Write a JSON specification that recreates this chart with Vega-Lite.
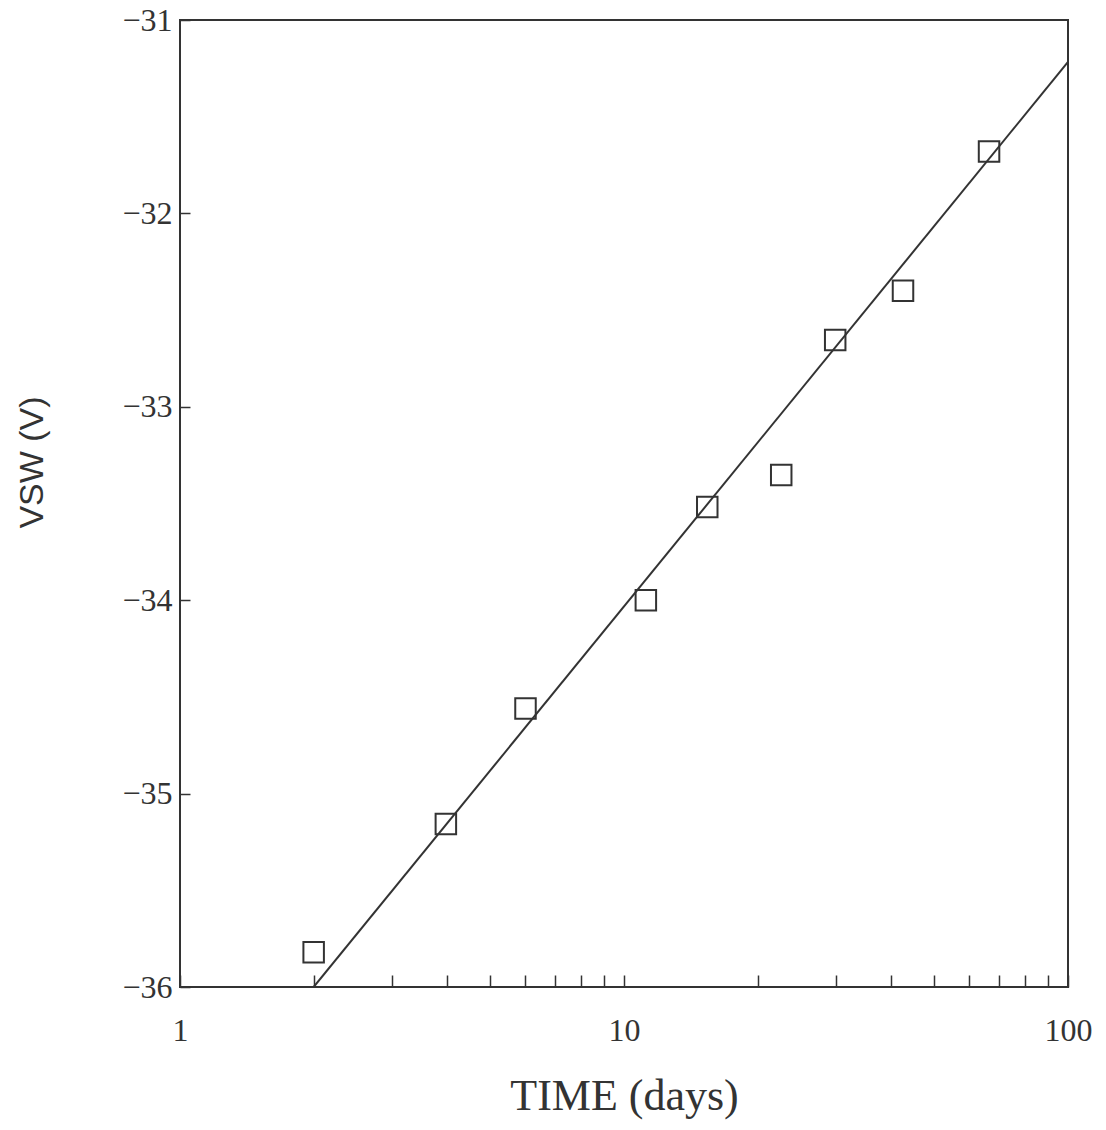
{
  "$schema": "https://vega.github.io/schema/vega-lite/v6.json",
  "autosize": "none",
  "padding": {"left": 180, "top": 20, "right": 38, "bottom": 143},
  "width": 888,
  "height": 967,
  "background": "white",
  "config": {
    "view": {"stroke": "#333", "strokeWidth": 2},
    "axis": {"grid": false, "domain": false, "tickColor": "#333", "tickWidth": 1.5, "labelColor": "#333", "titleColor": "#333"}
  },
  "datasets": {
    "pts": [
      {"t": 2.0, "v": -35.82},
      {"t": 3.97, "v": -35.157},
      {"t": 6.0, "v": -34.56},
      {"t": 11.2, "v": -34.0},
      {"t": 15.4, "v": -33.518},
      {"t": 22.6, "v": -33.353},
      {"t": 29.9, "v": -32.655},
      {"t": 42.5, "v": -32.40},
      {"t": 66.4, "v": -31.68}
    ],
    "fit": [
      {"t": 2.0, "v": -36.0},
      {"t": 100, "v": -31.217}
    ]
  },
  "layer": [
    {
      "data": {"name": "fit"},
      "mark": {"type": "line", "color": "#333", "strokeWidth": 2, "clip": true},
      "encoding": {
        "x": {"field": "t", "type": "quantitative", "scale": {"type": "log", "domain": [1, 100]},
          "axis": {
            "values": [1, 2, 3, 4, 5, 6, 7, 8, 9, 10, 20, 30, 40, 50, 60, 70, 80, 90, 100],
            "labelExpr": "datum.value == 1 || datum.value == 10 || datum.value == 100 ? format(datum.value, 'd') : ''",
            "tickSize": -12,
            "labelPadding": 40,
            "labelFont": "Liberation Serif",
            "labelFontSize": 32,
            "labelFlush": false,
            "labelOverlap": false,
            "title": "TIME  (days)",
            "titleFont": "Liberation Serif",
            "titleFontSize": 44,
            "titleFontWeight": "normal",
            "titlePadding": 28
          }
        },
        "y": {"field": "v", "type": "quantitative", "scale": {"domain": [-36, -31], "nice": false, "zero": false},
          "axis": {
            "values": [-36, -35, -34, -33, -32, -31],
            "format": "d",
            "tickSize": -10,
            "labelPadding": 18,
            "labelFont": "Liberation Serif",
            "labelFontSize": 32,
            "labelFlush": false,
            "title": "VSW  (V)",
            "titleFont": "Liberation Sans",
            "titleFontSize": 34,
            "titleFontWeight": "normal",
            "titleX": -148,
            "titleY": 442,
            "titleAngle": 270,
            "titleAlign": "center",
            "titleBaseline": "middle"
          }
        }
      }
    },
    {
      "data": {"name": "pts"},
      "mark": {"type": "point", "shape": "square", "size": 420, "filled": false, "color": "#333", "strokeWidth": 2, "opacity": 1},
      "encoding": {
        "x": {"field": "t", "type": "quantitative"},
        "y": {"field": "v", "type": "quantitative"}
      }
    }
  ]
}
